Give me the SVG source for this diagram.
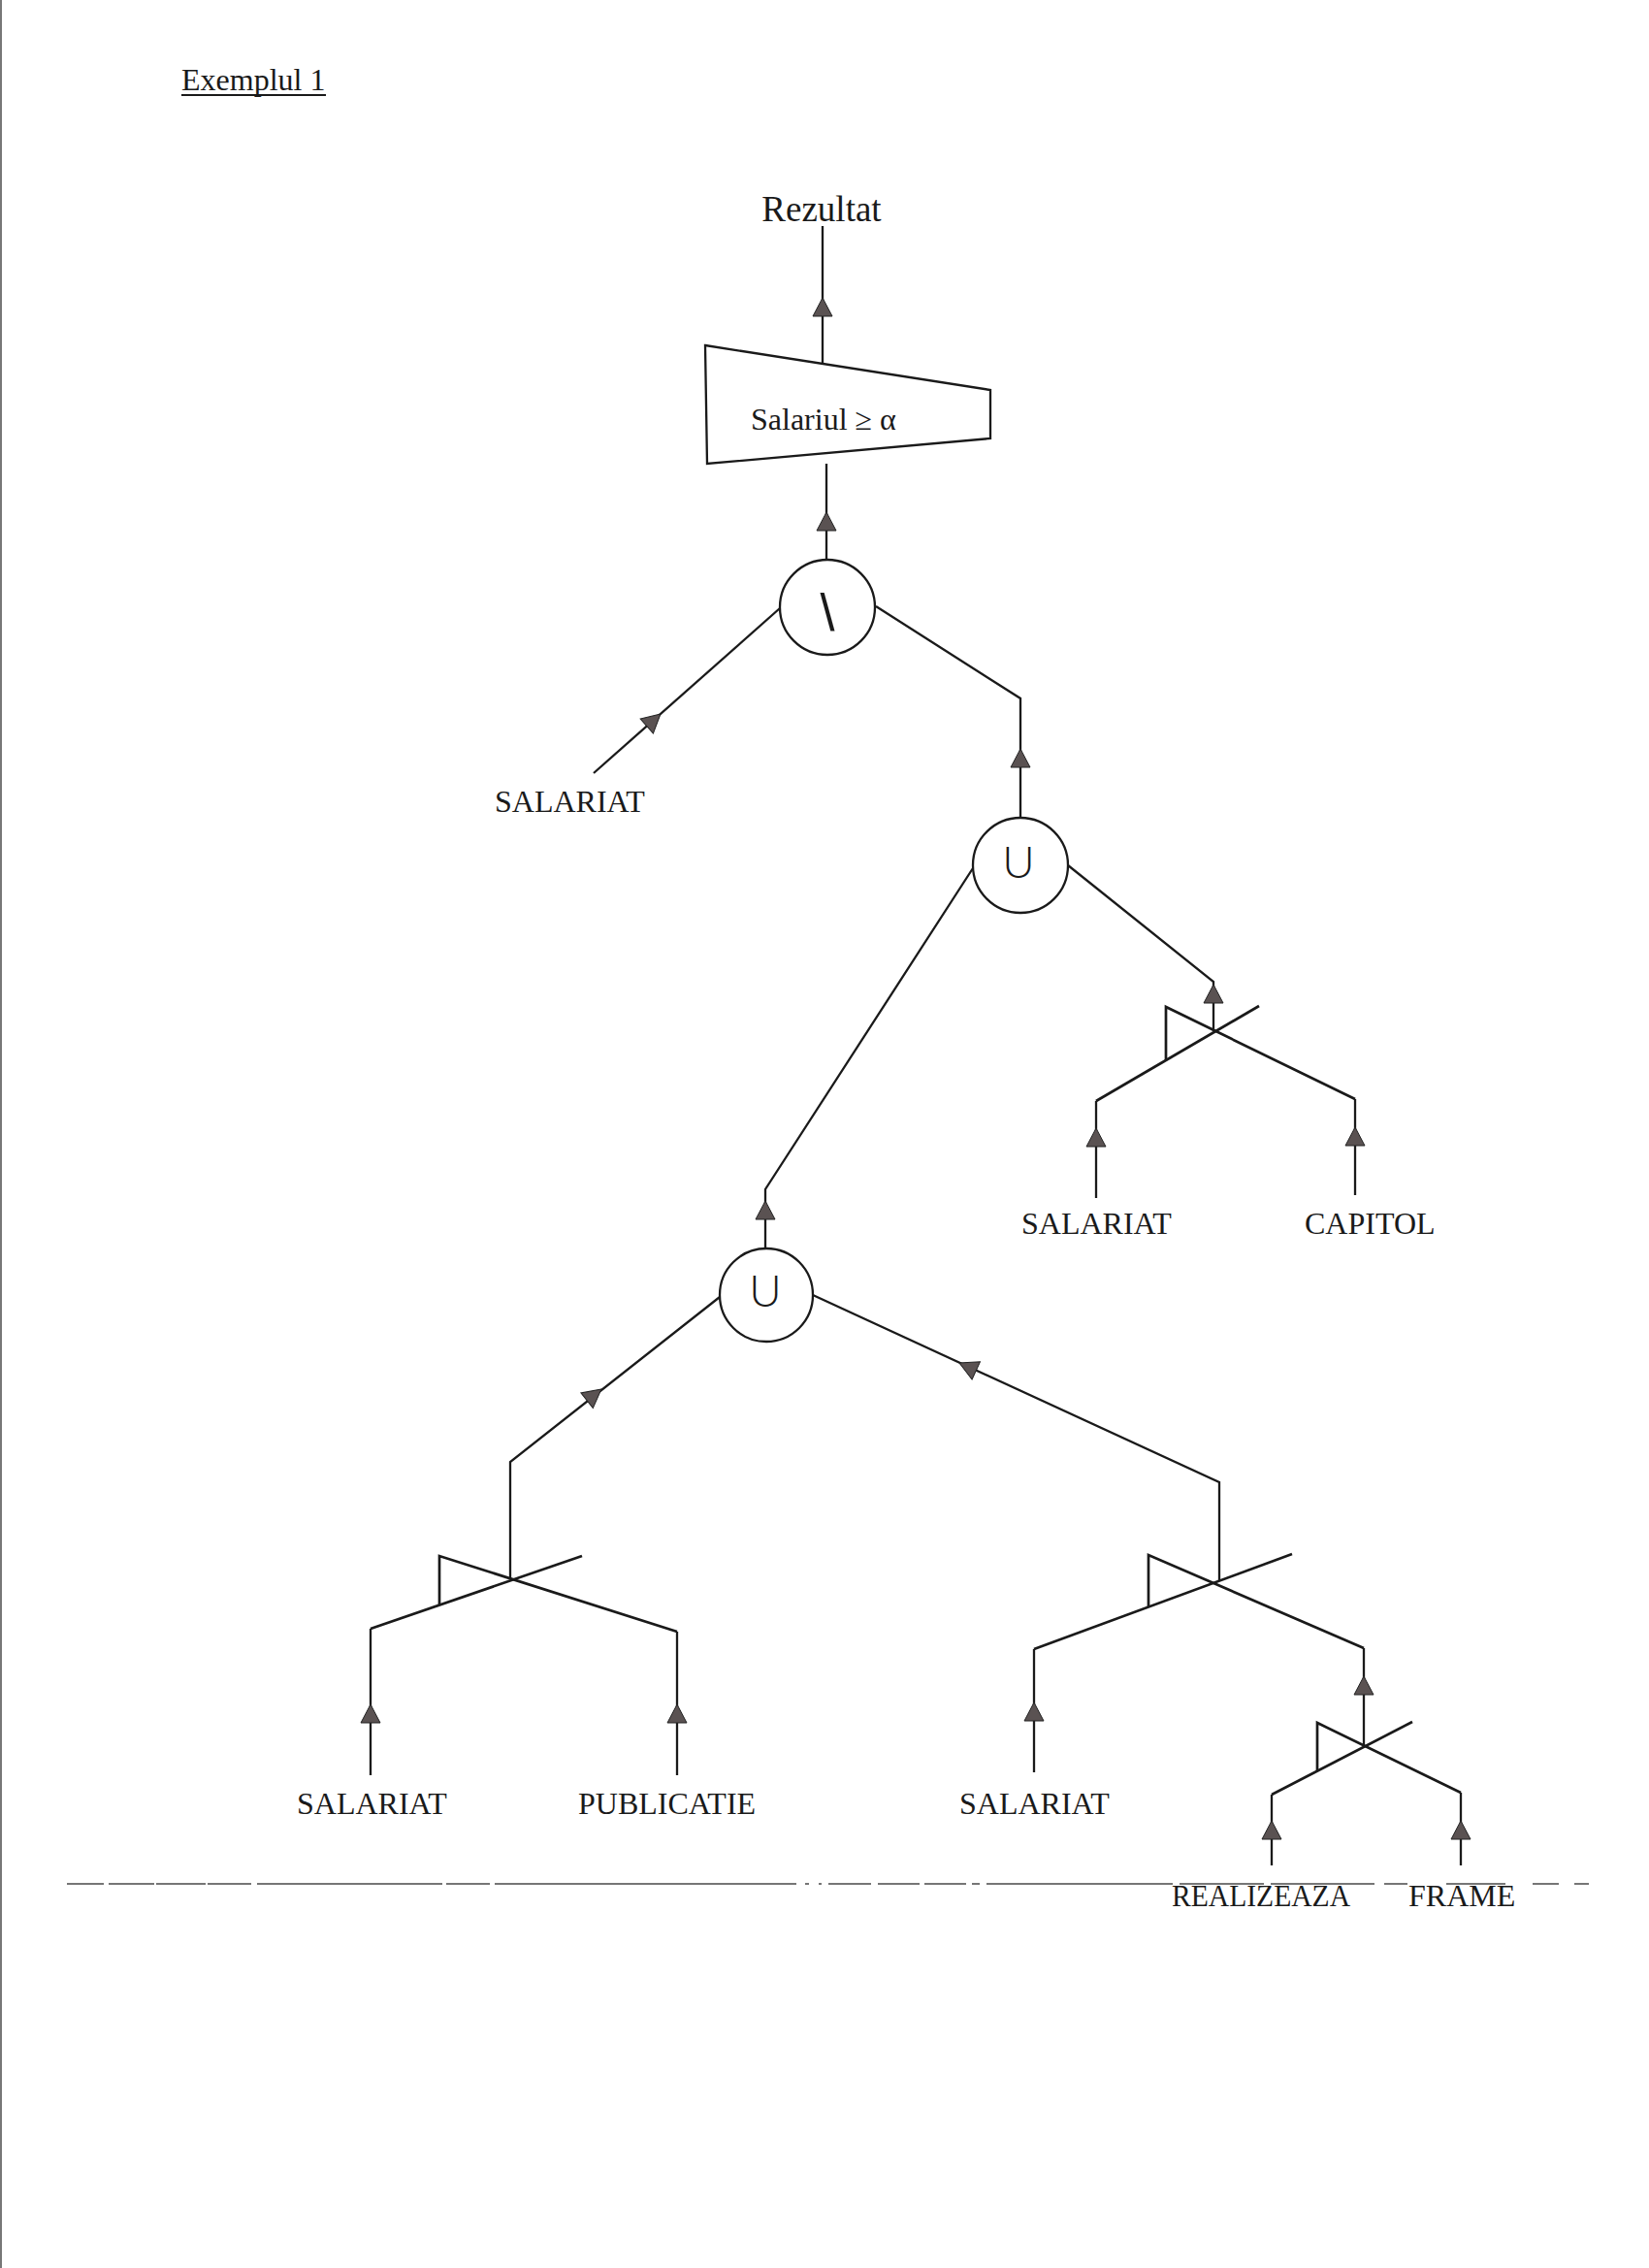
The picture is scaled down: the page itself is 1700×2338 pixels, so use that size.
<svg xmlns="http://www.w3.org/2000/svg" width="1700" height="2338" viewBox="0 0 1700 2338">
  <style>
    .lbl { font-family: "Liberation Serif", "Times New Roman", serif; font-size: 32px; fill: #1a1a1a; }
    .op { font-family: "Lato", "Liberation Sans", Arial, sans-serif; font-weight: 300; fill: #1a1a1a; text-anchor: middle; }
    .ln { fill: none; stroke: #1a1a1a; stroke-width: 2.3; stroke-linejoin: miter; stroke-linecap: butt; }
    .jn { fill: none; stroke: #1a1a1a; stroke-width: 2.7; stroke-linejoin: miter; }
    .ring { fill: #ffffff; stroke: #1a1a1a; stroke-width: 2.3; }
    .cut { fill: none; stroke: #4a4a4a; stroke-width: 1.7; }
  </style>
  <defs>
    <!-- arrowhead, tip at the origin, pointing up -->
    <path id="ah" d="M0,0 L-10,19 L10,19 Z" fill="#5a5252" stroke="#222" stroke-width="1"/>
  </defs>

  <rect x="0" y="0" width="1700" height="2338" fill="#ffffff"/>
  <line x1="1" y1="0" x2="1" y2="2338" stroke="#777" stroke-width="2"/>

  <g id="title">
    <text class="lbl" x="187" y="93">Exemplul 1</text>
    <line x1="187" y1="98" x2="336" y2="98" stroke="#1a1a1a" stroke-width="1.8"/>
  </g>

  <!-- connectors -->
  <g id="connectors">
    <!-- selection to result -->
    <path class="ln" d="M848,233 V375"/>
    <use href="#ah" transform="translate(848,307)"/>
    <!-- difference to selection -->
    <path class="ln" d="M852,478 V577"/>
    <use href="#ah" transform="translate(852,528)"/>
    <!-- SALARIAT into difference -->
    <path class="ln" d="M612,797 L804,627"/>
    <use href="#ah" transform="translate(681,736) rotate(48.5)"/>
    <!-- union 1 into difference -->
    <path class="ln" d="M1052,843 V720 L903,625"/>
    <use href="#ah" transform="translate(1052,772)"/>
    <!-- union 2 into union 1 -->
    <path class="ln" d="M789,1287 V1226 L1003,895"/>
    <use href="#ah" transform="translate(789,1238)"/>
    <!-- join 1 into union 1 -->
    <path class="ln" d="M1251,1063 V1012 L1101,892"/>
    <use href="#ah" transform="translate(1251,1015)"/>
    <!-- join 2 into union 2 -->
    <path class="ln" d="M526,1628 V1507 L742,1337"/>
    <use href="#ah" transform="translate(620,1432) rotate(51.7)"/>
    <!-- join 3 into union 2 -->
    <path class="ln" d="M1257,1630 V1528 L838,1335"/>
    <use href="#ah" transform="translate(989,1405) rotate(-65.3)"/>
    <!-- join 1 inputs -->
    <path class="ln" d="M1130,1135 V1235"/>
    <use href="#ah" transform="translate(1130,1163)"/>
    <path class="ln" d="M1397,1133 V1232"/>
    <use href="#ah" transform="translate(1397,1162)"/>
    <!-- join 2 inputs -->
    <path class="ln" d="M382,1679 V1830"/>
    <use href="#ah" transform="translate(382,1757)"/>
    <path class="ln" d="M698,1682 V1830"/>
    <use href="#ah" transform="translate(698,1757)"/>
    <!-- join 3 inputs -->
    <path class="ln" d="M1066,1700 V1827"/>
    <use href="#ah" transform="translate(1066,1755)"/>
    <path class="ln" d="M1406,1699 V1800"/>
    <use href="#ah" transform="translate(1406,1728)"/>
    <!-- join 4 inputs -->
    <path class="ln" d="M1311,1850 V1923"/>
    <use href="#ah" transform="translate(1311,1877)"/>
    <path class="ln" d="M1506,1848 V1923"/>
    <use href="#ah" transform="translate(1506,1877)"/>
  </g>

  <g id="result">
    <text class="lbl" x="847" y="228" text-anchor="middle" style="font-size:37px">Rezultat</text>
  </g>

  <g id="selection">
    <path class="ln" d="M727,356 L1021,402 L1021,452 L729,478 Z" fill="#ffffff"/>
    <text class="lbl" x="774" y="443">Salariul ≥ α</text>
  </g>

  <g id="difference">
    <circle class="ring" cx="853" cy="626" r="49"/>
    <text x="853" y="650" text-anchor="middle" style="font-family:'Liberation Sans', Arial, sans-serif; font-size:54px; fill:#1a1a1a">\</text>
  </g>

  <g id="union1">
    <circle class="ring" cx="1052" cy="892" r="49"/>
    <text class="op" x="1050" y="905" style="font-size:46px">U</text>
  </g>

  <g id="union2">
    <circle class="ring" cx="790" cy="1335" r="48"/>
    <text class="op" x="789" y="1347" style="font-size:46px">U</text>
  </g>

  <!-- join symbols: two crossing strokes with a closed left wing -->
  <g id="join1">
    <path class="jn" d="M1202,1093 V1038 L1397,1133"/>
    <path class="jn" d="M1298,1037 L1130,1135"/>
  </g>
  <g id="join2">
    <path class="jn" d="M453,1655 V1604 L698,1682"/>
    <path class="jn" d="M600,1604 L382,1679"/>
  </g>
  <g id="join3">
    <path class="jn" d="M1184,1656 V1603 L1406,1699"/>
    <path class="jn" d="M1332,1602 L1066,1700"/>
  </g>
  <g id="join4">
    <path class="jn" d="M1358,1826 V1776 L1506,1848"/>
    <path class="jn" d="M1456,1775 L1311,1850"/>
  </g>

  <g id="rel-salariat-1"><text class="lbl" x="510" y="837">SALARIAT</text></g>
  <g id="rel-salariat-2"><text class="lbl" x="1053" y="1272">SALARIAT</text></g>
  <g id="rel-capitol"><text class="lbl" x="1345" y="1272">CAPITOL</text></g>
  <g id="rel-salariat-3"><text class="lbl" x="306" y="1870">SALARIAT</text></g>
  <g id="rel-publicatie"><text class="lbl" x="596" y="1870">PUBLICATIE</text></g>
  <g id="rel-salariat-4"><text class="lbl" x="989" y="1870">SALARIAT</text></g>
  <g id="rel-realizeaza"><text class="lbl" x="1208" y="1965" textLength="184" lengthAdjust="spacingAndGlyphs">REALIZEAZA</text></g>
  <g id="rel-frame"><text class="lbl" x="1452" y="1965">FRAME</text></g>

  <!-- broken page rule -->
  <path class="cut" d="M69,1942 H107 M112,1942 H159 M161,1942 H212 M214,1942 H259 M265,1942 H456 M460,1942 H505 M510,1942 H821 M830,1942 H834 M844,1942 H847 M854,1942 H898 M905,1942 H948 M953,1942 H996 M1002,1942 H1010 M1017,1942 H1209 M1216,1942 H1303 M1310,1942 H1417 M1427,1942 H1451 M1491,1942 H1552 M1580,1942 H1607 M1623,1942 H1638"/>
</svg>
